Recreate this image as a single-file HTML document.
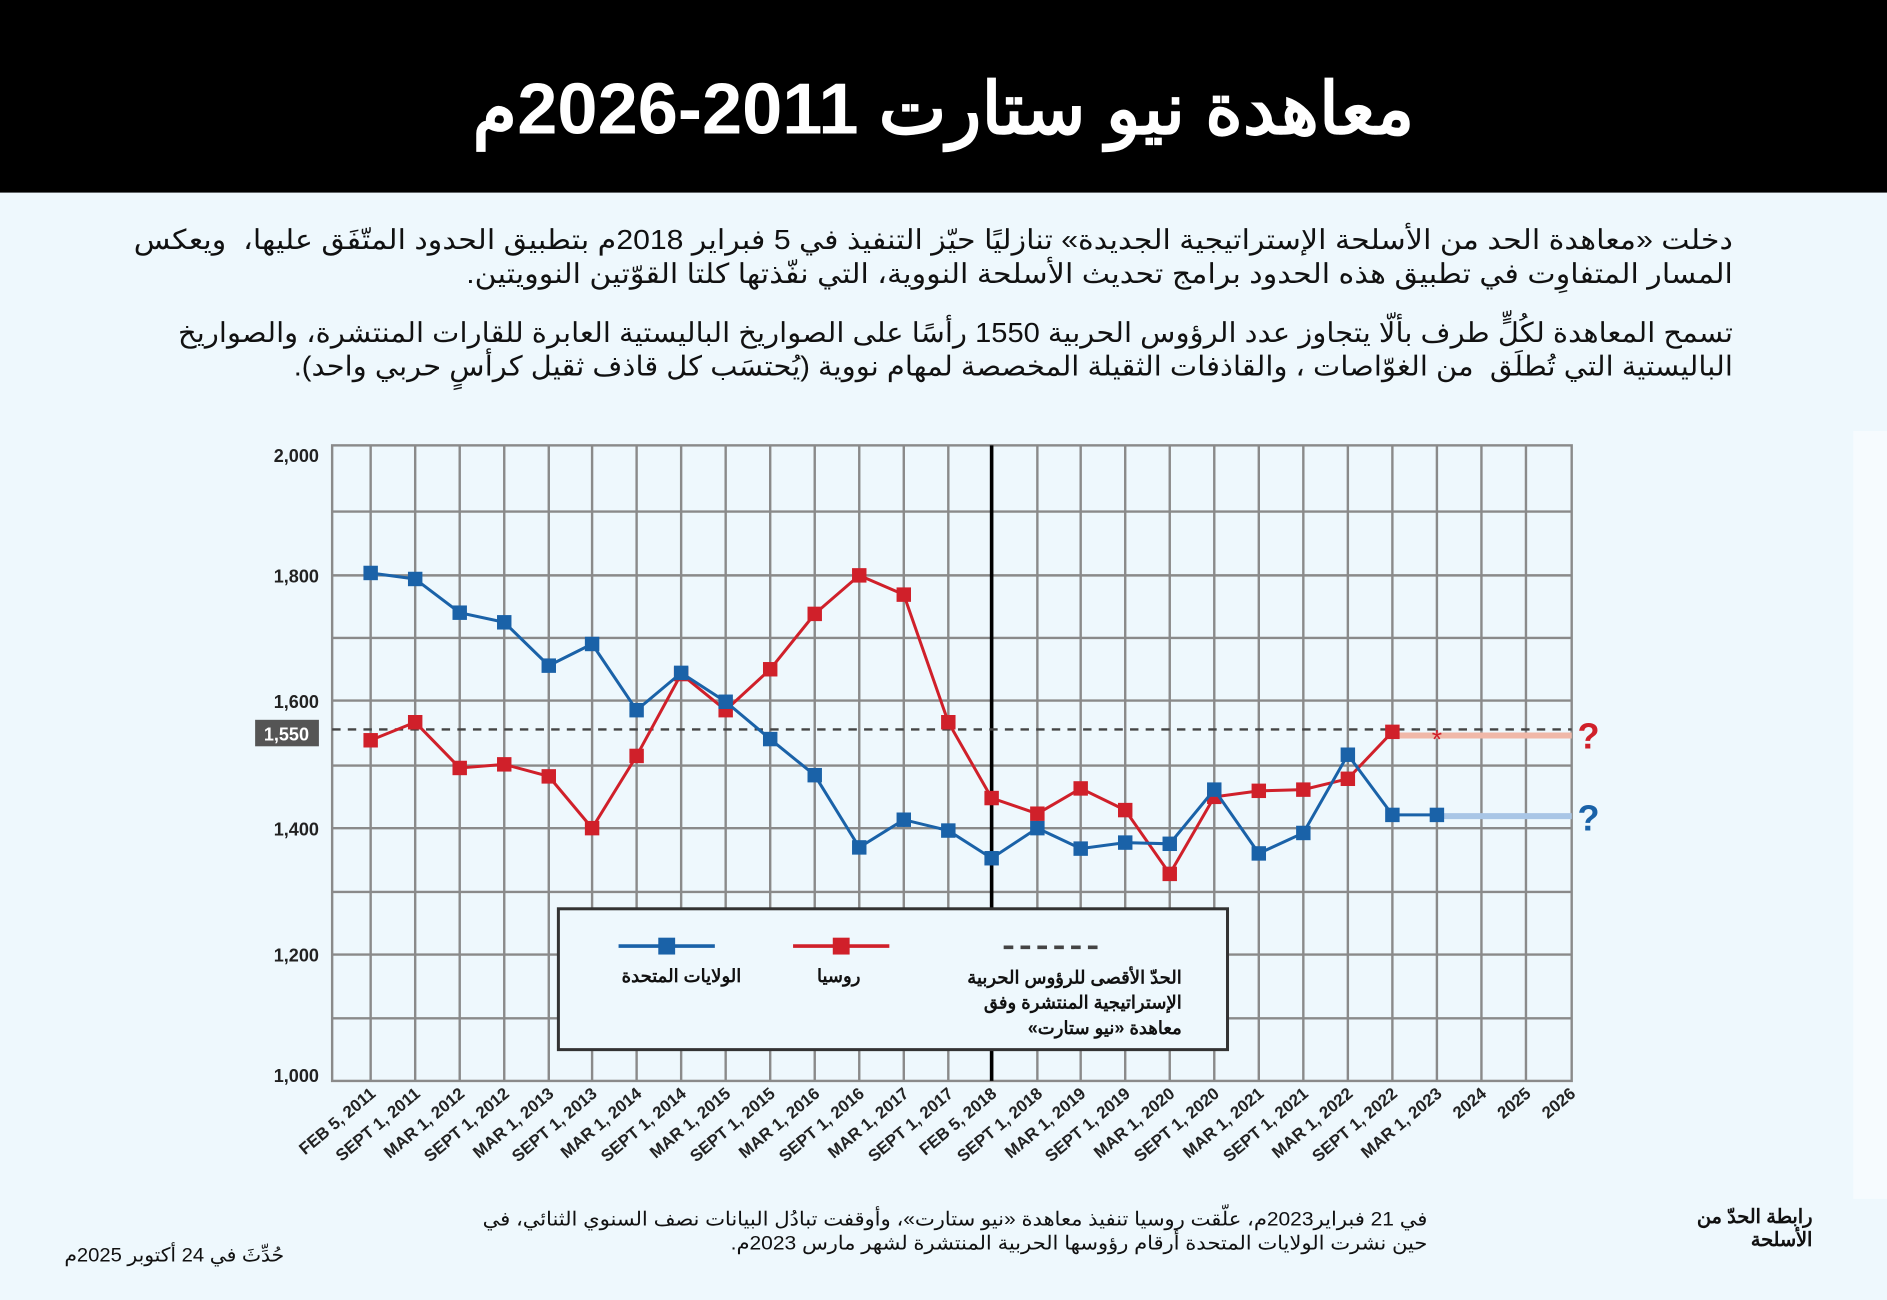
<!DOCTYPE html>
<html><head><meta charset="utf-8"><style>
html,body{margin:0;padding:0;width:1887px;height:1300px;overflow:hidden;background:#eef8fd}
#w{position:absolute;left:0;top:0;width:1568px;height:1080px;transform:scale(1.20344,1.2037);transform-origin:0 0;background:#eef8fd;font-family:"Liberation Sans","Noto Sans CJK SC",sans-serif}
.t{position:absolute;direction:rtl;text-align:right;color:#111;white-space:nowrap}
.s{transform-origin:100% 0}
</style></head><body><div id="w">
<div style="position:absolute;left:0;top:0;width:1568px;height:160px;background:#000"></div>
<div style="position:absolute;left:1540px;top:358px;width:28px;height:638px;background:#f6fbfe"></div>
<div class="t" style="left:0;width:1568px;top:56px;text-align:center;color:#fff;font-size:60px;font-weight:bold;line-height:70px">معاهدة نيو ستارت 2011-2026م</div>
<div class="t s" style="left:0;width:1440px;top:185px;font-size:23px;line-height:28px;transform:scaleX(1.09)">دخلت «معاهدة الحد من الأسلحة الإستراتيجية الجديدة» تنازليًا حيّز التنفيذ في 5 فبراير 2018م بتطبيق الحدود المتّفَق عليها،&nbsp; ويعكس<br>المسار المتفاوِت في تطبيق هذه الحدود برامج تحديث الأسلحة النووية، التي نفّذتها كلتا القوّتين النوويتين.</div>
<div class="t s" style="left:0;width:1440px;top:262px;font-size:23px;line-height:28px;transform:scaleX(1.05)">تسمح المعاهدة لكُلٍّ طرف بألّا يتجاوز عدد الرؤوس الحربية 1550 رأسًا على الصواريخ الباليستية العابرة للقارات المنتشرة، والصواريخ<br>الباليستية التي تُطلَق&nbsp; من الغوّاصات ، والقاذفات الثقيلة المخصصة لمهام نووية (يُحتسَب كل قاذف ثقيل كرأسٍ حربي واحد).</div>
<svg style="position:absolute;left:0;top:0" width="1568" height="1080" viewBox="0 0 1568 1080">
<g stroke="#8a8a8a" stroke-width="2">
<rect x="276" y="370" width="1030" height="528" fill="none"/>
<path d="M276 425H1306M276 478H1306M276 530H1306M276 582H1306M276 636H1306M276 688H1306M276 741H1306M276 793H1306M276 846H1306"/>
<path d="M308 370V898M345 370V898M382 370V898M419 370V898M456 370V898M492 370V898M529 370V898M566 370V898M603 370V898M640 370V898M677 370V898M714 370V898M751 370V898M788 370V898M862 370V898M898 370V898M935 370V898M972 370V898M1009 370V898M1046 370V898M1083 370V898M1120 370V898M1157 370V898M1194 370V898M1231 370V898M1268 370V898"/>
</g>
<line x1="824" y1="370" x2="824" y2="898" stroke="#000" stroke-width="3"/>
<line x1="276" y1="606" x2="1306" y2="606" stroke="#444" stroke-width="2" stroke-dasharray="7,6"/>
<line x1="1157" y1="611" x2="1306" y2="611" stroke="#f0b8a8" stroke-width="5"/>
<line x1="1194" y1="678" x2="1306" y2="678" stroke="#a9c6e6" stroke-width="5"/>
<text x="1194" y="622" fill="#d0202a" font-size="22" text-anchor="middle">*</text>
<text x="1320" y="622" fill="#d0202a" font-size="30" font-weight="bold" text-anchor="middle">?</text>
<text x="1320" y="690" fill="#1a62a8" font-size="30" font-weight="bold" text-anchor="middle">?</text>
<g font-size="15" font-weight="bold" text-anchor="end" fill="#222">
<text x="265" y="384">2,000</text><text x="265" y="484">1,800</text><text x="265" y="588">1,600</text><text x="265" y="694">1,400</text><text x="265" y="799">1,200</text><text x="265" y="899">1,000</text>
</g>
<rect x="212" y="598" width="53" height="22" fill="#555"/>
<text x="238" y="615" fill="#fff" font-size="15" font-weight="bold" text-anchor="middle">1,550</text>
<polyline fill="none" stroke="#d0202a" stroke-width="2.5" points="308,615 345,600 382,638 419,635 456,645 492,688 529,628 566,560 603,590 640,556 677,510 714,478 751,494 788,600 824,663 862,676 898,655 935,673 972,726 1009,662 1046,657 1083,656 1120,647 1157,608"/>
<g fill="#d0202a">
<rect x="302" y="609" width="12" height="12"/><rect x="339" y="594" width="12" height="12"/><rect x="376" y="632" width="12" height="12"/><rect x="413" y="629" width="12" height="12"/><rect x="450" y="639" width="12" height="12"/><rect x="486" y="682" width="12" height="12"/><rect x="523" y="622" width="12" height="12"/><rect x="560" y="554" width="12" height="12"/><rect x="597" y="584" width="12" height="12"/><rect x="634" y="550" width="12" height="12"/><rect x="671" y="504" width="12" height="12"/><rect x="708" y="472" width="12" height="12"/><rect x="745" y="488" width="12" height="12"/><rect x="782" y="594" width="12" height="12"/><rect x="818" y="657" width="12" height="12"/><rect x="856" y="670" width="12" height="12"/><rect x="892" y="649" width="12" height="12"/><rect x="929" y="667" width="12" height="12"/><rect x="966" y="720" width="12" height="12"/><rect x="1003" y="656" width="12" height="12"/><rect x="1040" y="651" width="12" height="12"/><rect x="1077" y="650" width="12" height="12"/><rect x="1114" y="641" width="12" height="12"/><rect x="1151" y="602" width="12" height="12"/>
</g>
<polyline fill="none" stroke="#1a62a8" stroke-width="2.5" points="308,476 345,481 382,509 419,517 456,553 492,535 529,590 566,559 603,583 640,614 677,644 714,704 751,681 788,690 824,713 862,688 898,705 935,700 972,701 1009,656 1046,709 1083,692 1120,627 1157,677 1194,677"/>
<g fill="#1a62a8">
<rect x="302" y="470" width="12" height="12"/><rect x="339" y="475" width="12" height="12"/><rect x="376" y="503" width="12" height="12"/><rect x="413" y="511" width="12" height="12"/><rect x="450" y="547" width="12" height="12"/><rect x="486" y="529" width="12" height="12"/><rect x="523" y="584" width="12" height="12"/><rect x="560" y="553" width="12" height="12"/><rect x="597" y="577" width="12" height="12"/><rect x="634" y="608" width="12" height="12"/><rect x="671" y="638" width="12" height="12"/><rect x="708" y="698" width="12" height="12"/><rect x="745" y="675" width="12" height="12"/><rect x="782" y="684" width="12" height="12"/><rect x="818" y="707" width="12" height="12"/><rect x="856" y="682" width="12" height="12"/><rect x="892" y="699" width="12" height="12"/><rect x="929" y="694" width="12" height="12"/><rect x="966" y="695" width="12" height="12"/><rect x="1003" y="650" width="12" height="12"/><rect x="1040" y="703" width="12" height="12"/><rect x="1077" y="686" width="12" height="12"/><rect x="1114" y="621" width="12" height="12"/><rect x="1151" y="671" width="12" height="12"/><rect x="1188" y="671" width="12" height="12"/>
</g>
<rect x="464" y="755" width="556" height="117" fill="#eef8fd" stroke="#333" stroke-width="2.5"/>
<line x1="514" y1="786" x2="594" y2="786" stroke="#1a62a8" stroke-width="3"/><rect x="547" y="779" width="14" height="14" fill="#1a62a8"/>
<line x1="659" y1="786" x2="739" y2="786" stroke="#d0202a" stroke-width="3"/><rect x="692" y="779" width="14" height="14" fill="#d0202a"/>
<line x1="834" y1="787" x2="916" y2="787" stroke="#444" stroke-width="3" stroke-dasharray="8,6"/>
<g font-size="14" font-weight="bold" fill="#222" text-anchor="end">
<text transform="translate(313,910) rotate(-40)">FEB 5, 2011</text>
<text transform="translate(350,910) rotate(-40)">SEPT 1, 2011</text>
<text transform="translate(387,910) rotate(-40)">MAR 1, 2012</text>
<text transform="translate(424,910) rotate(-40)">SEPT 1, 2012</text>
<text transform="translate(461,910) rotate(-40)">MAR 1, 2013</text>
<text transform="translate(497,910) rotate(-40)">SEPT 1, 2013</text>
<text transform="translate(534,910) rotate(-40)">MAR 1, 2014</text>
<text transform="translate(571,910) rotate(-40)">SEPT 1, 2014</text>
<text transform="translate(608,910) rotate(-40)">MAR 1, 2015</text>
<text transform="translate(645,910) rotate(-40)">SEPT 1, 2015</text>
<text transform="translate(682,910) rotate(-40)">MAR 1, 2016</text>
<text transform="translate(719,910) rotate(-40)">SEPT 1, 2016</text>
<text transform="translate(756,910) rotate(-40)">MAR 1, 2017</text>
<text transform="translate(793,910) rotate(-40)">SEPT 1, 2017</text>
<text transform="translate(829,910) rotate(-40)">FEB 5, 2018</text>
<text transform="translate(867,910) rotate(-40)">SEPT 1, 2018</text>
<text transform="translate(903,910) rotate(-40)">MAR 1, 2019</text>
<text transform="translate(940,910) rotate(-40)">SEPT 1, 2019</text>
<text transform="translate(977,910) rotate(-40)">MAR 1, 2020</text>
<text transform="translate(1014,910) rotate(-40)">SEPT 1, 2020</text>
<text transform="translate(1051,910) rotate(-40)">MAR 1, 2021</text>
<text transform="translate(1088,910) rotate(-40)">SEPT 1, 2021</text>
<text transform="translate(1125,910) rotate(-40)">MAR 1, 2022</text>
<text transform="translate(1162,910) rotate(-40)">SEPT 1, 2022</text>
<text transform="translate(1199,910) rotate(-40)">MAR 1, 2023</text>
<text transform="translate(1236,910) rotate(-40)">2024</text>
<text transform="translate(1273,910) rotate(-40)">2025</text>
<text transform="translate(1310,910) rotate(-40)">2026</text>
</g>
</svg>
<div class="t" style="left:480px;width:136px;top:802px;font-size:15px;font-weight:bold;line-height:20px">الولايات المتحدة</div>
<div class="t" style="left:640px;width:75px;top:802px;font-size:15px;font-weight:bold;line-height:20px">روسيا</div>
<div class="t" style="left:740px;width:242px;top:802px;font-size:15px;font-weight:bold;line-height:21px">الحدّ الأقصى للرؤوس الحربية<br>الإستراتيجية المنتشرة وفق<br>معاهدة «نيو ستارت»</div>
<div class="t s" style="left:0;width:1186px;top:1004px;font-size:16px;line-height:20px;transform:scaleX(1.09)">في 21 فبراير2023م، علّقت روسيا تنفيذ معاهدة «نيو ستارت»، وأوقفت تبادُل البيانات نصف السنوي الثنائي، في<br>حين نشرت الولايات المتحدة أرقام رؤوسها الحربية المنتشرة لشهر مارس 2023م.</div>
<div class="t" style="left:1380px;width:126px;top:1002px;font-size:16px;line-height:19px;font-weight:bold">رابطة الحدّ من<br>الأسلحة</div>
<div class="t s" style="left:0;width:236px;top:1034px;font-size:16px;line-height:20px;transform:scaleX(1.05)">حُدِّثَ في 24 أكتوبر 2025م</div>
</div></body></html>
